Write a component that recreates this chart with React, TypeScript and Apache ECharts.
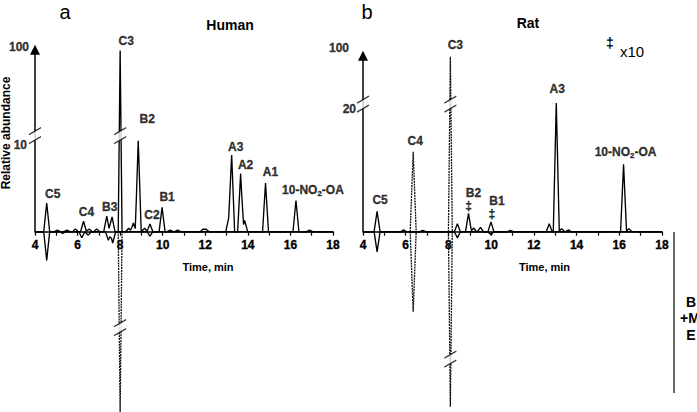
import React, { useEffect, useRef } from 'react';
import * as echarts from 'echarts';

// ---------------- data (retention time in min, relative abundance) ----------------
const xMin = 4;
const xMax = 18;

// Panel a: Human
const humanTimes = [4.55, 5.05, 5.5, 5.9, 6.28, 6.55, 6.9, 7.37, 7.62, 8.4, 8.62, 8.85, 9.15, 9.4, 9.97, 10.35, 10.7, 11.9, 12.05, 13.1, 13.24, 13.66, 13.85, 14.83, 16.26, 16.9];
const humanHeights = [3.3, 0.2, 0.2, 0.3, 1.2, 0.3, 0.3, 1.8, 1.7, 0.4, 1.0, 10.5, 0.4, 0.9, 2.8, 0.2, 0.2, 0.3, 0.3, 1.6, 8.85, 6.7, 1.3, 5.6, 3.6, 0.2];
const humanNames = ['C5', '', '', '', 'C4', '', '', 'B3', '', '', '', 'B2', '', 'C2', 'B1', '', '', '', '', '', 'A3', 'A2', '', 'A1', '10-NO2-OA', ''];
const humanNegTimes = [4.55, 5.3, 6.2, 6.5, 7.45, 7.65, 9.4];
const humanNegHeights = [-3.3, -0.2, -0.7, -0.4, -1.0, -1.3, -0.5];
const humanC3Time = 8.0;
const humanC3Up = 99;
const humanC3Down = -99;
const humanAxisTicks = [10, 100];

// Panel b: Rat
const ratTimes = [4.66, 5.9, 6.8, 8.42, 8.94, 9.18, 9.5, 9.99, 10.9, 12.72, 13.05, 13.3, 13.62, 16.2, 16.45];
const ratHeights = [3.3, 0.3, 0.2, 1.3, 3.0, 0.6, 0.7, 1.6, 0.2, 1.3, 21.0, 0.5, 0.3, 11.0, 0.5];
const ratNames = ['C5', '', '', '', 'B2', '', '', 'B1', '', '', 'A3', '', '', '10-NO2-OA', ''];
const ratTimesTen = ['B2', 'B1']; // shown x10 (‡)
const ratNegTimes = [4.66, 8.42, 9.99];
const ratNegHeights = [-3.3, -1.0, -0.5];
const ratC4Time = 6.35;
const ratC4Up = 13.05;
const ratC4Down = -13.05;
const ratC3Time = 8.09;
const ratC3Up = 98;
const ratC3Down = -98;
const ratAxisTicks = [20, 100];

// ---------------- layout / style ----------------
const FONT = 'Liberation Sans, Arial, Helvetica, sans-serif';
const Y_MAX = 191.7; // display units = px above baseline
const PEAK_HW = 0.14;
const C3_HW = 0.09;
const C4_HW = 0.14;

type Scale = { k: number; lowerMax: number; upperStart: number; top: number; breakPx: number };
const scaleA: Scale = { k: 8.67, lowerMax: 10.6, upperStart: 100, top: 182, breakPx: 96 };
const scaleB: Scale = { k: 6.13, lowerMax: 21.5, upperStart: 136, top: 176, breakPx: 127.5 };

const humanLabelOffsets: Record<string, number[]> = {
  C5: [6, 0], C4: [3, 0], B3: [3, 0], C3: [6, -1], B2: [9, -13], C2: [2, 0], B1: [5, -1],
  A3: [4, 1], A2: [5, 0], A1: [5, -2], '10-NO2-OA': [17, -1],
};
const ratLabelOffsets: Record<string, number[]> = {
  C5: [3, -2], C4: [2, -2], C3: [5, -3], B2: [0, 1], B1: [1, 1], A3: [1, -5], '10-NO2-OA': [2, -3],
};

function fwd(s: Scale, v: number) {
  const a = Math.abs(v);
  const sg = v < 0 ? -1 : 1;
  if (a <= s.lowerMax) return sg * a * s.k;
  return sg * (s.upperStart + ((a - s.lowerMax) / (100 - s.lowerMax)) * (s.top - s.upperStart));
}

function buildTrace(times: number[], heights: number[], hw: number, s: Scale) {
  const xs = new Set<number>([xMin, xMax]);
  times.forEach((t) => {
    xs.add(+(t - hw).toFixed(4));
    xs.add(t);
    xs.add(+(t + hw).toFixed(4));
  });
  const sorted = Array.from(xs).sort((a, b) => a - b);
  return sorted.map((x) => {
    let v = 0;
    times.forEach((t, i) => {
      const f = 1 - Math.abs(x - t) / hw;
      if (f > 0) v += f * heights[i];
    });
    return [x, fwd(s, v)];
  });
}

function buildPeak(t: number, h: number, hw: number, s: Scale) {
  return [[t - hw, 0], [t, fwd(s, h)], [t + hw, 0]];
}

function labelText(name: string, marked: boolean) {
  if (marked) return `{p|${name}}\n{d|‡}`;
  return name.includes('NO2') ? '{n|10-NO}{s|2}{n|-OA}' : `{n|${name}}`;
}

const heavy = { color: '#000', textBorderColor: '#000', textBorderWidth: 0.35 };
const rich = {
  n: { fontFamily: FONT, fontSize: 12, fontWeight: 'bold', lineHeight: 14, ...heavy },
  s: { fontFamily: FONT, fontSize: 8, fontWeight: 'bold', lineHeight: 8, verticalAlign: 'bottom', padding: [6, 0, 0, 0], ...heavy },
  p: { fontFamily: FONT, fontSize: 12, fontWeight: 'bold', lineHeight: 13, padding: [0, 0, 0, 10], ...heavy },
  d: { fontFamily: FONT, fontSize: 12, fontWeight: 'bold', lineHeight: 13, ...heavy },
};

const BREAK_FILL = 'path://M0,16 L12,9 L12,0 L0,7 Z';
const BREAK_STROKE = 'path://M0,16 L12,9 M0,7 L12,0';

function panelSeries(idx: number, s: Scale, cfg: any) {
  const common = { xAxisIndex: idx, yAxisIndex: idx, silent: true, animation: false, clip: false, color: '#000' };
  const solid = { color: '#000', width: 1.35 };
  const dotted = { color: '#111', width: 1.3, type: [2, 0.8] };
  const series: any[] = [];
  series.push({
    ...common, type: 'line', symbol: 'none', data: buildTrace(cfg.times, cfg.heights, PEAK_HW, s), lineStyle: solid, z: 3,
    markLine: {
      silent: true, symbol: ['none', 'triangle'], symbolSize: 10, label: { show: false },
      itemStyle: { color: '#000' },
      lineStyle: { color: '#000', width: 1.5, type: 'solid' },
      data: [[{ coord: [xMin, 0] }, { coord: [xMin, fwd(s, 100)] }]],
    },
  });
  series.push({ ...common, type: 'line', symbol: 'none', data: buildTrace(cfg.negTimes, cfg.negHeights, PEAK_HW, s), lineStyle: solid, z: 3 });
  cfg.extra.forEach((e: any) => {
    series.push({ ...common, type: 'line', symbol: 'none', data: buildPeak(e.t, e.h, e.hw, s), lineStyle: e.dotted ? dotted : solid, z: 3 });
  });
  // peak labels
  const labelData: any[] = [];
  cfg.times.forEach((t: number, i: number) => {
    const nm = cfg.names[i];
    if (nm) labelData.push({ name: nm, value: [t, fwd(s, cfg.heights[i])], label: { offset: cfg.offsets[nm] || [0, 0] } });
  });
  cfg.extra.forEach((e: any) => {
    if (e.name) labelData.push({ name: e.name, value: [e.t, fwd(s, e.h)], label: { offset: cfg.offsets[e.name] || [0, 0] } });
  });
  series.push({
    ...common, type: 'scatter', symbolSize: 0, z: 6, data: labelData, itemStyle: { color: '#000' },
    label: {
      show: true, position: 'top', distance: 2, color: '#000',
      fontFamily: FONT, fontSize: 12, fontWeight: 'bold',
      formatter: (p: any) => labelText(p.name, cfg.marked.includes(p.name)),
      rich,
    },
  });
  // y tick labels
  series.push({
    ...common, type: 'scatter', symbolSize: 0, z: 6, itemStyle: { color: '#000' },
    data: cfg.axisTicks.map((v: number, i: number) => ({ name: String(v), value: [xMin, fwd(s, v)], label: { offset: cfg.axisOffsets[i] } })),
    label: {
      show: true, position: 'left', distance: 6, formatter: (p: any) => p.name,
      fontFamily: FONT, fontSize: 12, fontWeight: 'bold', ...heavy,
    },
  });
  // axis breaks
  const breakPts = [[xMin, s.breakPx], [cfg.c3t, s.breakPx], [cfg.c3t, -s.breakPx]];
  series.push({ ...common, type: 'scatter', symbol: BREAK_FILL, symbolSize: [12, 16], z: 8, data: breakPts, itemStyle: { color: '#fff', borderWidth: 0 } });
  series.push({ ...common, type: 'scatter', symbol: BREAK_STROKE, symbolSize: [12, 16], z: 9, data: breakPts, itemStyle: { color: 'rgba(0,0,0,0)', borderColor: '#000', borderWidth: 1.2 } });
  return series;
}

function xAxisCfg(idx: number, namePad: number) {
  return {
    type: 'value', gridIndex: idx, min: xMin, max: xMax, interval: 1, position: 'bottom',
    axisLine: { onZero: false, lineStyle: { color: '#000', width: 1.6 } },
    axisTick: { show: true, length: 4, lineStyle: { color: '#000', width: 1.2 } },
    axisLabel: {
      margin: 7, fontFamily: FONT, fontSize: 12, fontWeight: 'bold', ...heavy,
      formatter: (v: number) => (v % 2 === 0 ? String(v) : ''),
    },
    splitLine: { show: false },
    name: 'Time, min', nameLocation: 'middle', nameGap: 30,
    nameTextStyle: { color: '#000', fontFamily: FONT, fontSize: 11, fontWeight: 'bold', padding: [0, 0, 0, namePad] },
  };
}

function yAxisCfg(idx: number) {
  return {
    type: 'value', gridIndex: idx, min: 0, max: Y_MAX,
    axisLine: { show: false }, axisTick: { show: false }, axisLabel: { show: false }, splitLine: { show: false },
  };
}

function txt(text: string, x: number, y: number, font: string, extra: any = {}) {
  return {
    type: 'text', x, y, silent: true, ...extra,
    style: { text, font, fill: '#000', align: 'center', verticalAlign: 'middle', textAlign: 'center', textVerticalAlign: 'middle' },
  };
}

export default function App() {
  const ref = useRef<HTMLDivElement>(null);
  useEffect(() => {
    document.body.style.margin = '0';
    if (!ref.current) return;
    const chart = echarts.init(ref.current, null, { renderer: 'svg' });
    const series = [
      ...panelSeries(0, scaleA, {
        times: humanTimes, heights: humanHeights, names: humanNames,
        negTimes: humanNegTimes, negHeights: humanNegHeights,
        extra: [
          { t: humanC3Time, h: humanC3Up, hw: C3_HW, dotted: false, name: 'C3' },
          { t: humanC3Time, h: humanC3Down, hw: C3_HW, dotted: true },
        ],
        offsets: humanLabelOffsets, marked: [], c3t: humanC3Time,
        axisTicks: humanAxisTicks, axisOffsets: [[-2, 0], [0, -3]],
      }),
      ...panelSeries(1, scaleB, {
        times: ratTimes, heights: ratHeights, names: ratNames,
        negTimes: ratNegTimes, negHeights: ratNegHeights,
        extra: [
          { t: ratC4Time, h: ratC4Up, hw: C4_HW, dotted: true, name: 'C4' },
          { t: ratC4Time, h: ratC4Down, hw: C4_HW, dotted: true },
          { t: ratC3Time, h: ratC3Up, hw: C3_HW, dotted: true, name: 'C3' },
          { t: ratC3Time, h: ratC3Down, hw: C3_HW, dotted: true },
        ],
        offsets: ratLabelOffsets, marked: ratTimesTen, c3t: ratC3Time,
        axisTicks: ratAxisTicks, axisOffsets: [[-1, 0], [-8, -8]],
      }),
    ];
    chart.setOption({
      animation: false,
      color: ['#000'],
      textStyle: { fontFamily: FONT, color: '#000' },
      grid: [
        { left: 35, width: 298, top: 40, height: Y_MAX, containLabel: false, outerBoundsMode: 'none' },
        { left: 363, width: 299, top: 40, height: Y_MAX, containLabel: false, outerBoundsMode: 'none' },
      ],
      xAxis: [xAxisCfg(0, 48), xAxisCfg(1, 64)],
      yAxis: [yAxisCfg(0), yAxisCfg(1)],
      series,
      graphic: [
        txt('a', 65, 12, `20px ${FONT}`),
        txt('b', 367, 12, `20px ${FONT}`),
        txt('Human', 230, 25, `bold 14px ${FONT}`),
        txt('Rat', 528, 23, `bold 14px ${FONT}`),
        txt('‡', 610, 43, `bold 14px ${FONT}`),
        txt('x10', 632, 51, `15px ${FONT}`),
        txt('Relative abundance', 6, 133, `bold 12px ${FONT}`, { rotation: Math.PI / 2 }),
        { type: 'line', silent: true, shape: { x1: 674, y1: 232, x2: 674, y2: 393 }, style: { stroke: '#000', lineWidth: 1.2 } },
        txt('B', 691, 302, `bold 14px ${FONT}`),
        txt('+M', 690, 318, `bold 14px ${FONT}`),
        txt('E', 691, 335, `bold 14px ${FONT}`),
      ],
    });
    return () => chart.dispose();
  }, []);
  return <div ref={ref} style={{ width: 697, height: 412 }} />;
}
